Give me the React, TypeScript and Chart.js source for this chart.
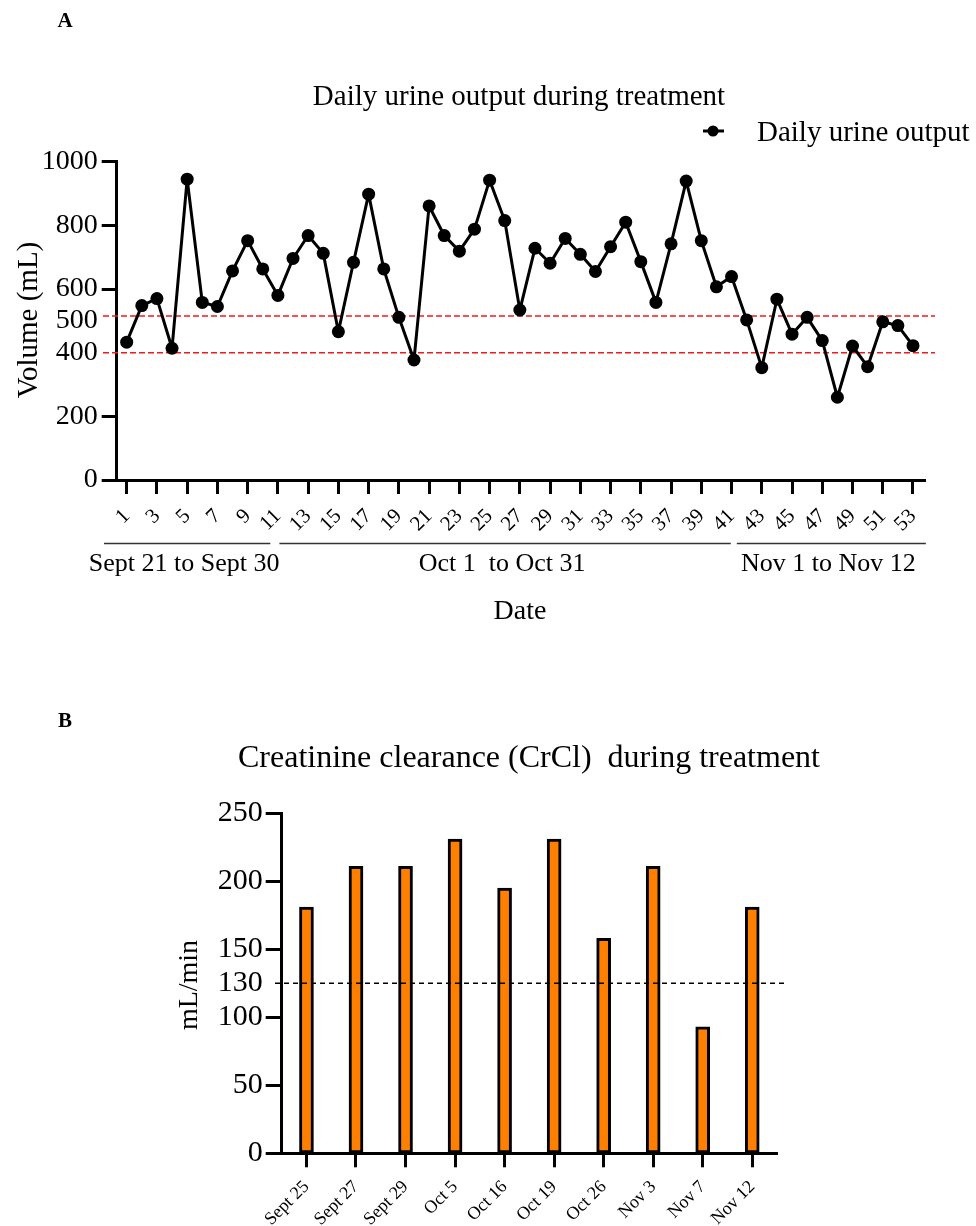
import React, { useEffect, useRef } from "react";
import { Chart, registerables } from "chart.js";

Chart.register(...registerables);

const FONT = "'Liberation Serif', 'Times New Roman', serif";

// ---------- Panel A data ----------
const days = [
  1, 2, 3, 4, 5, 6, 7, 8, 9, 10, 11, 12, 13, 14, 15, 16, 17, 18, 19, 20, 21, 22, 23, 24, 25, 26, 27,
  28, 29, 30, 31, 32, 33, 34, 35, 36, 37, 38, 39, 40, 41, 42, 43, 44, 45, 46, 47, 48, 49, 50, 51, 52, 53,
];
const urineOutput = [
  433, 548, 570, 414, 945, 558, 545, 657, 752, 663, 580, 696, 768, 712, 466, 684, 898, 663, 511, 377,
  861, 768, 719, 788, 942, 815, 534, 728, 681, 759, 709, 655, 733, 810, 686, 558, 742, 939, 752, 607,
  639, 503, 353, 568, 458, 511, 438, 260, 421, 356, 497, 485, 422,
];
const dayTicks = [1, 3, 5, 7, 9, 11, 13, 15, 17, 19, 21, 23, 25, 27, 29, 31, 33, 35, 37, 39, 41, 43, 45, 47, 49, 51, 53];
const volumeTicks = [0, 200, 400, 500, 600, 800, 1000];
const volumeUnmarkedTicks = [400, 500];
const urineRefLines = [515, 400];
const groupLabels = ["Sept 21 to Sept 30", "Oct 1  to Oct 31", "Nov 1 to Nov 12"];
const groupFrom = [-0.5, 11.1, 41.35];
const groupTo = [10.5, 40.95, 53.85];

// ---------- Panel B data ----------
const crclDates = ["Sept 25", "Sept 27", "Sept 29", "Oct 5", "Oct 16", "Oct 19", "Oct 26", "Nov 3", "Nov 7", "Nov 12"];
const crclValues = [181, 211, 211, 231, 195, 231, 158, 211, 93, 181];
const crclRefLine = 125;
const crclTickValues = [0, 50, 100, 125, 150, 200, 250];
const crclTickLabels = ["0", "50", "100", "130", "150", "200", "250"];
const crclUnmarkedTicks = [125];

function text(ctx: CanvasRenderingContext2D, s: string, x: number, y: number, font: string, align: CanvasTextAlign = "center") {
  ctx.font = font;
  ctx.fillStyle = "#000";
  ctx.textAlign = align;
  ctx.textBaseline = "middle";
  ctx.fillText(s, x, y);
}

function PanelA() {
  const ref = useRef<HTMLCanvasElement>(null);
  useEffect(() => {
    const deco = {
      id: "decoA",
      beforeDatasetsDraw(chart: any) {
        const ctx = chart.ctx as CanvasRenderingContext2D;
        const y = chart.scales.y;
        ctx.save();
        ctx.strokeStyle = "#ee1c1c";
        ctx.lineWidth = 1.5;
        ctx.setLineDash([6, 3]);
        urineRefLines.forEach((v) => {
          const py = y.getPixelForValue(v);
          ctx.beginPath();
          ctx.moveTo(103, py);
          ctx.lineTo(935, py);
          ctx.stroke();
        });
        ctx.restore();
      },
      afterDraw(chart: any) {
        const ctx = chart.ctx as CanvasRenderingContext2D;
        const x = chart.scales.x;
        ctx.save();
        text(ctx, "A", 65, 22, `bold 21px ${FONT}`);
        text(ctx, "Daily urine output during treatment", 519, 97, `29px ${FONT}`);
        // legend
        ctx.strokeStyle = "#000";
        ctx.lineWidth = 3;
        ctx.beginPath();
        ctx.moveTo(703, 131);
        ctx.lineTo(724, 131);
        ctx.stroke();
        ctx.fillStyle = "#000";
        ctx.beginPath();
        ctx.arc(713, 131, 5.5, 0, Math.PI * 2);
        ctx.fill();
        text(ctx, "Daily urine output", 757, 133, `29px ${FONT}`, "left");
        // y title
        ctx.save();
        ctx.translate(29, 320);
        ctx.rotate(-Math.PI / 2);
        text(ctx, "Volume (mL)", 0, 0, `29px ${FONT}`);
        ctx.restore();
        // groups
        ctx.strokeStyle = "#333";
        ctx.lineWidth = 1.5;
        groupLabels.forEach((g, i) => {
          const a = x.getPixelForValue(groupFrom[i]);
          const b = x.getPixelForValue(groupTo[i]);
          ctx.beginPath();
          ctx.moveTo(a, 543.5);
          ctx.lineTo(b, 543.5);
          ctx.stroke();
          text(ctx, g, (a + b) / 2 - 3, 564, `26px ${FONT}`);
        });
        text(ctx, "Date", 520, 612, `28px ${FONT}`);
        ctx.restore();
      },
    };
    const chart = new Chart(ref.current!, {
      type: "line",
      data: {
        datasets: [
          {
            label: "Daily urine output",
            data: days.map((d, i) => ({ x: d, y: urineOutput[i] })),
            borderColor: "#000",
            backgroundColor: "#000",
            borderWidth: 3,
            borderJoinStyle: "round",
            pointRadius: 6.5,
            pointBorderWidth: 0,
            pointBackgroundColor: "#000",
            tension: 0,
            clip: false as any,
          },
        ],
      },
      options: {
        responsive: false,
        animation: false,
        layout: { padding: { left: 0, top: 161.7, right: 50.3, bottom: 0 } },
        plugins: { legend: { display: false }, title: { display: false }, tooltip: { enabled: false } },
        scales: {
          x: {
            type: "linear",
            min: 0.34,
            max: 53.84,
            afterBuildTicks: (s: any) => {
              s.ticks = dayTicks.map((v) => ({ value: v }));
            },
            afterFit: (s: any) => {
              s.height = 160;
            },
            ticks: {
              autoSkip: false,
              minRotation: 45,
              maxRotation: 45,
              padding: 10,
              color: "#000",
              font: { family: FONT, size: 21 },
              callback: (v: any) => String(v),
            },
            grid: { drawOnChartArea: false, tickLength: 14, tickWidth: 3, tickColor: "#000" },
            border: { color: "#000", width: 3 },
          },
          y: {
            min: 0,
            max: 1000,
            afterBuildTicks: (s: any) => {
              s.ticks = volumeTicks.map((v) => ({ value: v }));
            },
            afterFit: (s: any) => {
              s.width = 116.7;
            },
            ticks: {
              padding: 4,
              color: "#000",
              font: { family: FONT, size: 28 },
              callback: (v: any) => String(v),
            },
            grid: {
              drawOnChartArea: false,
              tickLength: 15,
              tickWidth: 3,
              tickColor: (c: any) => (volumeUnmarkedTicks.includes(c.tick?.value) ? "rgba(0,0,0,0)" : "#000"),
            },
            border: { color: "#000", width: 3 },
          },
        },
      },
      plugins: [deco],
    });
    return () => chart.destroy();
  }, []);
  return <canvas ref={ref} width={976} height={640} style={{ position: "absolute", left: 0, top: 0, width: 976, height: 640 }} />;
}

function PanelB() {
  const ref = useRef<HTMLCanvasElement>(null);
  useEffect(() => {
    const deco = {
      id: "decoB",
      afterDatasetsDraw(chart: any) {
        const ctx = chart.ctx as CanvasRenderingContext2D;
        const py = chart.scales.y.getPixelForValue(crclRefLine);
        ctx.save();
        ctx.strokeStyle = "#000";
        ctx.lineWidth = 1.5;
        ctx.setLineDash([5, 4]);
        ctx.beginPath();
        ctx.moveTo(275, py);
        ctx.lineTo(785, py);
        ctx.stroke();
        ctx.restore();
      },
      afterDraw(chart: any) {
        const ctx = chart.ctx as CanvasRenderingContext2D;
        ctx.save();
        text(ctx, "B", 65, 722 - 640, `bold 21px ${FONT}`);
        text(ctx, "Creatinine clearance (CrCl)  during treatment", 529, 759 - 640, `32px ${FONT}`);
        ctx.save();
        ctx.translate(190, 985 - 640);
        ctx.rotate(-Math.PI / 2);
        text(ctx, "mL/min", 0, 0, `28px ${FONT}`);
        ctx.restore();
        ctx.restore();
      },
    };
    const chart = new Chart(ref.current!, {
      type: "bar",
      data: {
        labels: crclDates,
        datasets: [
          {
            label: "CrCl",
            data: crclValues,
            backgroundColor: "#ff8000",
            borderColor: "#000",
            borderWidth: 3,
            borderSkipped: false,
            barThickness: 14,
          },
        ],
      },
      options: {
        responsive: false,
        animation: false,
        layout: { padding: { left: 0, top: 173.3, right: 199, bottom: 0 } },
        plugins: { legend: { display: false }, title: { display: false }, tooltip: { enabled: false } },
        scales: {
          x: {
            afterFit: (s: any) => {
              s.height = 586 - 513.3;
            },
            ticks: {
              autoSkip: false,
              minRotation: 45,
              maxRotation: 45,
              padding: 9,
              color: "#000",
              font: { family: FONT, size: 18 },
            },
            grid: { offset: false, drawOnChartArea: false, tickLength: 14, tickWidth: 3, tickColor: "#000" },
            border: { color: "#000", width: 3 },
          },
          y: {
            min: 0,
            max: 250,
            afterBuildTicks: (s: any) => {
              s.ticks = crclTickValues.map((v) => ({ value: v }));
            },
            afterFit: (s: any) => {
              s.width = 281.7;
            },
            ticks: {
              padding: 3,
              color: "#000",
              font: { family: FONT, size: 30 },
              callback: (v: any) => crclTickLabels[crclTickValues.indexOf(Number(v))] ?? String(v),
            },
            grid: {
              drawOnChartArea: false,
              tickLength: 16,
              tickWidth: 3,
              tickColor: (c: any) => (crclUnmarkedTicks.includes(c.tick?.value) ? "rgba(0,0,0,0)" : "#000"),
            },
            border: { color: "#000", width: 3 },
          },
        },
      },
      plugins: [deco],
    });
    return () => chart.destroy();
  }, []);
  return <canvas ref={ref} width={976} height={586} style={{ position: "absolute", left: 0, top: 640, width: 976, height: 586 }} />;
}

export default function App() {
  return (
    <div style={{ position: "absolute", left: 0, top: 0, width: 976, height: 1226, background: "#fff" }}>
      <PanelA />
      <PanelB />
    </div>
  );
}
